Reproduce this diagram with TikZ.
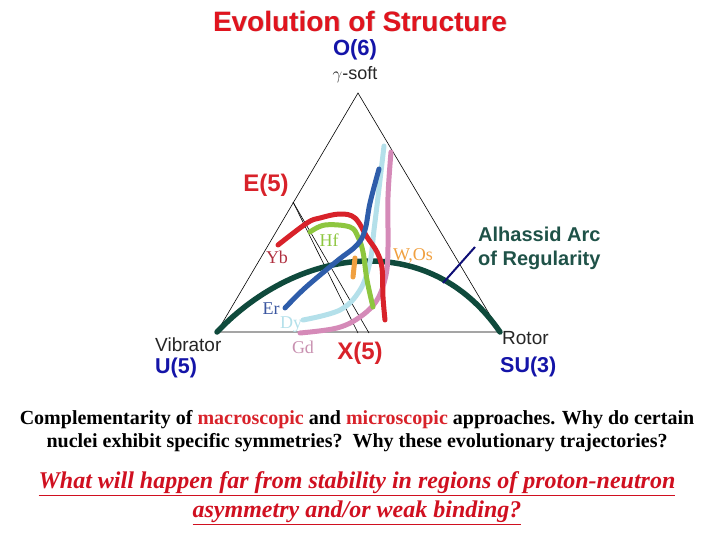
\documentclass[tikz,border=0pt]{standalone}
\usepackage{fontspec}
\setmainfont{Liberation Serif}
\setsansfont{Liberation Sans}
\usetikzlibrary{calc}
\definecolor{titlered}{HTML}{E0141E}
\definecolor{labblue}{HTML}{1414A8}
\definecolor{arcgreen}{HTML}{0F4A3C}
\definecolor{alhgreen}{HTML}{1F5248}
\definecolor{cred}{HTML}{D8222A}
\definecolor{cgreen}{HTML}{8DC63F}
\definecolor{cblue}{HTML}{2E5DAA}
\definecolor{clblue}{HTML}{B4E0EA}
\definecolor{cpink}{HTML}{D58AB8}
\definecolor{corange}{HTML}{F0A040}
\definecolor{ybcol}{HTML}{B03040}
\definecolor{ercol}{HTML}{3A56A0}
\definecolor{gdcol}{HTML}{C890B0}
\definecolor{qred}{HTML}{D01020}
\begin{document}
\begin{tikzpicture}[x=1pt,y=-1pt,
  sanslab/.style={font=\sffamily\bfseries\fontsize{24}{28}\selectfont, inner sep=0pt},
  bluelab/.style={font=\sffamily\bfseries\fontsize{21.5}{25}\selectfont, text=labblue, inner sep=0pt},
  graylab/.style={font=\sffamily\fontsize{19}{22}\selectfont, text=black!85, inner sep=0pt},
  serlab/.style={font=\rmfamily\fontsize{18}{21}\selectfont, inner sep=0pt},
  traj/.style={line width=5pt, line cap=round, line join=round},
  thin/.style={line width=0.6pt, black}]
\useasboundingbox (0,0) rectangle (720,540);
% title
\node[font=\sffamily\bfseries\fontsize{28}{32}\selectfont, text=black!22] at (360.8,21.8) {Evolution of Structure};
\node[font=\sffamily\bfseries\fontsize{28}{32}\selectfont, text=titlered] (title) at (360,21) {Evolution of Structure};
\node[bluelab, font=\sffamily\bfseries\fontsize{22}{25}\selectfont] (o6) at (355,50) {O(6)};
\node[graylab, font=\sffamily\fontsize{18}{21}\selectfont] (gsoft) at (355,75) {$\gamma$-soft};
% triangle
\coordinate (A) at (358,93);
\coordinate (L) at (217,332);
\coordinate (R) at (500,332);
\draw[thin, line join=miter] (L) -- (A) -- (R) -- cycle;
% X(5) lines
\coordinate (xs) at (293,202);
\coordinate (xe1) at (358,333);
\coordinate (xe2) at (369,333);
\draw[thin] (xs) -- (xe1);
\draw[thin] (xs) -- (xe2);
% arc
\draw[line width=5.5pt, arcgreen, line cap=round] (L) .. controls (300,245) and (430,230) .. (R);
% Alhassid line
\coordinate (al1) at (443,283);
\coordinate (al2) at (475,247);
\draw[line width=2pt, labblue!70!black] (al1) -- (al2);
% trajectories
\draw[traj, cpink] plot[smooth, tension=0.6] coordinates {(300,333) (337,328) (360,317) (377,300) (386,275) (388,247) (388,197) (391,152)};
\draw[traj, clblue] plot[smooth, tension=0.6] coordinates {(303,320) (340,310) (360,290) (370,262) (374,230) (378,197) (384,146)};
\draw[traj, cred] plot[smooth, tension=0.6] coordinates {(278,245) (307,223) (320,218) (340,214) (355,218) (367,237) (377,252) (382,268) (383,297) (385,320)};
\draw[traj, cgreen] plot[smooth, tension=0.6] coordinates {(310,232) (325,225) (350,227) (358,237) (363,252) (367,280) (373,307)};
\draw[traj, corange] (355,258) -- (353,277);
\draw[traj, cblue] plot[smooth, tension=0.6] coordinates {(285,308) (305,288) (337,261) (357,245) (365,230) (370,203) (379,169)};
% labels
\node[sanslab, text=cred] (e5) at (266,185) {E(5)};
\node[sanslab, text=cred] (x5) at (360,353) {X(5)};
\node[serlab, text=ybcol] (yb) at (277,257) {Yb};
\node[serlab, text=cgreen] (hf) at (329,240) {Hf};
\node[serlab, text=corange] (wos) at (413,256) {W,Os};
\node[serlab, text=ercol] (er) at (271,309) {Er};
\node[serlab, text=clblue] (dy) at (291,325) {Dy};
\node[serlab, text=gdcol] (gd) at (303,347) {Gd};
\node[graylab, anchor=west] (vib) at (155,345) {Vibrator};
\node[bluelab, anchor=west] (u5) at (155,368) {U(5)};
\node[graylab, anchor=west] (rot) at (502,338) {Rotor};
\node[bluelab, anchor=west] (su3) at (500,367) {SU(3)};
\node[font=\sffamily\bfseries\fontsize{20}{23}\selectfont, text=alhgreen, anchor=west, inner sep=0pt] (alh1) at (478,234) {Alhassid Arc};
\node[font=\sffamily\bfseries\fontsize{20}{23}\selectfont, text=alhgreen, anchor=west, inner sep=0pt] (alh2) at (478,260) {of Regularity};
% bottom text
\node[font=\rmfamily\bfseries\fontsize{20}{24}\selectfont, inner sep=0pt] (c1) at (357,420) {Complementarity of \textcolor{cred}{macroscopic} and \textcolor{cred}{microscopic} approaches. Why do certain};
\node[font=\rmfamily\bfseries\fontsize{20}{24}\selectfont, inner sep=0pt] (c2) at (357,443) {nuclei exhibit specific symmetries?\ \ Why these evolutionary trajectories?};
\node[font=\rmfamily\bfseries\itshape\fontsize{24}{28}\selectfont, text=qred, inner sep=0pt] (q1) at (357,484) {\underline{What will happen far from stability in regions of proton-neutron}};
\node[font=\rmfamily\bfseries\itshape\fontsize{24}{28}\selectfont, text=qred, inner sep=0pt] (q2) at (357,513) {\underline{asymmetry and/or weak binding?}};
\end{tikzpicture}
\end{document}
